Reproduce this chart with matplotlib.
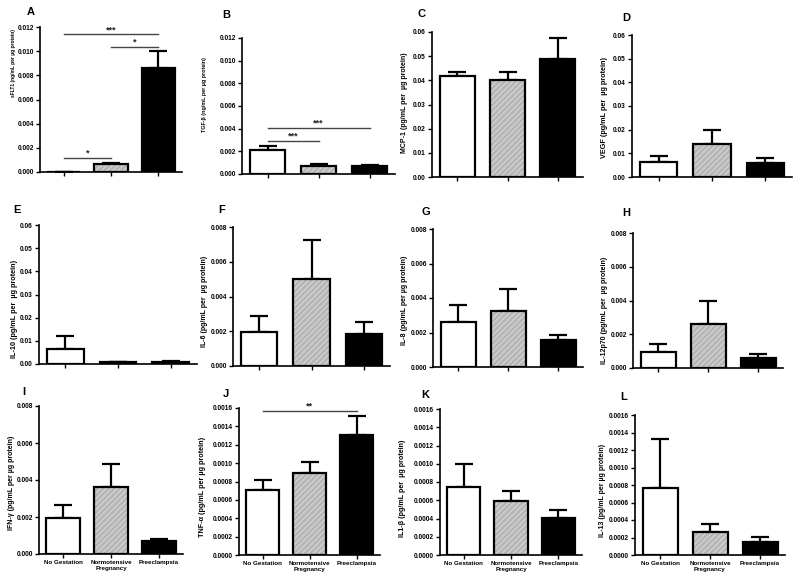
import matplotlib.pyplot as plt

plt.rcParams['font.family'] = ['Liberation Sans', 'DejaVu Sans']
plt.rcParams['font.weight'] = 'bold'

groups = ['No Gestation', 'Normotensive\nPregnancy', 'Preeclampsia']
letters = ['A', 'B', 'C', 'D', 'E', 'F', 'G', 'H', 'I', 'J', 'K', 'L']
ylabels = ['sFLT1 (ng/mL per µg protein)', 'TGF-β (ng/mL per µg protein)',
           'MCP-1 (pg/mL per  µg protein)', 'VEGF (pg/mL per  µg protein)',
           'IL-10 (pg/mL per  µg protein)', 'IL-6 (pg/mL per  µg protein)',
           'IL-8 (pg/mL per µg protein)', 'IL-12p70 (pg/mL per  µg protein)',
           'IFN-γ (pg/mL per µg protein)', 'TNF-α (pg/mL per µg protein)',
           'IL1-β (pg/mL per  µg protein)', 'IL-13 (pg/mL per µg protein)']

means = [[0.00002, 0.00065, 0.0086],
         [0.0021, 0.00075, 0.0007],
         [0.0418, 0.0400, 0.0487],
         [0.0063, 0.0140, 0.0061],
         [0.0065, 0.0008, 0.0009],
         [0.00197, 0.00503, 0.00187],
         [0.0026, 0.00325, 0.00157],
         [0.00095, 0.0026, 0.0006],
         [0.00195, 0.0036, 0.00068],
         [0.00071, 0.00089, 0.00131],
         [0.00074, 0.00059, 0.00041],
         [0.00077, 0.00026, 0.00015]]
errors = [[0.0, 0.00012, 0.0014],
          [0.0004, 0.0001, 0.0001],
          [0.0015, 0.0035, 0.009],
          [0.0027, 0.006, 0.0021],
          [0.0058, 0.0002, 0.0004],
          [0.0009, 0.0022, 0.00067],
          [0.001, 0.00125, 0.00027],
          [0.0005, 0.0014, 0.00023],
          [0.0007, 0.00125, 0.00015],
          [0.00011, 0.00012, 0.0002],
          [0.00026, 0.00011, 0.00008],
          [0.00056, 0.0001, 0.00006]]
ymax = [0.012, 0.012, 0.06, 0.06, 0.06, 0.008, 0.008, 0.008, 0.008, 0.0016, 0.0016, 0.0016]
ystep = [0.002, 0.002, 0.01, 0.01, 0.01, 0.002, 0.002, 0.002, 0.002, 0.0002, 0.0002, 0.0002]
ydec = [3, 3, 2, 2, 2, 3, 3, 3, 3, 4, 4, 4]

# significance brackets: panel index, from, to, height, label
sig = [(0, 0, 1, 0.00118, '*'), (0, 0, 2, 0.0114, '***'), (0, 1, 2, 0.01035, '*'),
       (1, 0, 1, 0.00295, '***'), (1, 0, 2, 0.0041, '***'),
       (9, 0, 2, 0.00157, '**')]

# axes boxes in pixels: left, right, top, bottom
boxes = [(40, 182, 27, 172), (242, 395, 38, 174), (432, 583, 32, 177), (632, 792, 35, 177),
         (39, 197, 225, 364), (233, 390, 227, 366), (433, 583, 229, 367), (633, 783, 233, 368),
         (39, 183, 406, 554), (239, 380, 408, 555), (440, 582, 409, 555), (635, 785, 415, 555)]
letter_pos = [(27, 12), (222, 15), (418, 14), (622, 18), (13, 210), (218, 210), (422, 212),
              (622, 213), (22, 392), (223, 394), (421, 395), (620, 397)]
# y label centre (px) and size, the panels were pasted from different sources
label_pos = [(14, 63), (205, 95), (405, 103), (605, 108), (15, 309), (204, 301), (405, 300),
             (605, 310), (12, 483), (203, 487), (403, 488), (603, 490)]
label_size = [3.5, 3.9, 5.0, 5.2, 5.2, 5.0, 5.0, 5.0, 5.0, 5.2, 5.1, 5.0]

W, H = 800, 583
fig = plt.figure(figsize=(8, 5.83), dpi=100)
fig.patch.set_facecolor('white')

x = [0, 1, 2]
for i in range(12):
    l, r, t, b = boxes[i]
    ax = fig.add_axes([l / W, 1 - b / H, (r - l) / W, (b - t) / H])
    m = means[i]
    e = errors[i]
    ax.errorbar(x, m, yerr=[[0, 0, 0], e], fmt='none', ecolor='black',
                elinewidth=1.6, capsize=6.5, capthick=1.6, zorder=1)
    ax.bar(x[0], m[0], width=0.7, color='white', edgecolor='black', linewidth=1.6, zorder=2)
    ax.bar(x[1], m[1], width=0.7, color='#b5b5b5', edgecolor='#d2d2d2', hatch='//////',
           linewidth=0, zorder=2)
    ax.bar(x[1], m[1], width=0.7, fill=False, edgecolor='black', linewidth=1.6, zorder=3)
    ax.bar(x[2], m[2], width=0.7, color='black', edgecolor='black', linewidth=1.6, zorder=2)

    ax.set_xlim(-0.5, 2.5)
    ax.set_ylim(0, ymax[i])
    n = int(round(ymax[i] / ystep[i]))
    ticks = [k * ystep[i] for k in range(n + 1)]
    ax.set_yticks(ticks)
    ax.set_yticklabels([f'{v:.{ydec[i]}f}' for v in ticks], fontsize=4.7, fontweight='bold')
    ax.set_xticks(x)
    if i >= 8:
        ax.set_xticklabels(groups, fontsize=4.5, fontweight='bold')
    else:
        ax.set_xticklabels([])
    ax.spines['top'].set_visible(False)
    ax.spines['right'].set_visible(False)
    ax.spines['left'].set_linewidth(1.2)
    ax.spines['bottom'].set_linewidth(1.2)
    ax.tick_params(axis='both', length=3, width=1, pad=1.5)

    for s in sig:
        if s[0] == i:
            ax.plot([s[1], s[2]], [s[3], s[3]], color='#444444', linewidth=1, zorder=4)
            ax.text((s[1] + s[2]) / 2, s[3], s[4], ha='center', va='bottom',
                    fontsize=6.5, fontweight='bold', color='#222222')

    fig.text(label_pos[i][0] / W, 1 - label_pos[i][1] / H, ylabels[i], rotation=90,
             fontsize=label_size[i], fontweight='bold', ha='center', va='center')
    fig.text(letter_pos[i][0] / W, 1 - letter_pos[i][1] / H, letters[i],
             fontsize=8, fontweight='bold', ha='left', va='center')

plt.savefig('out.png', dpi=100, facecolor='white')
